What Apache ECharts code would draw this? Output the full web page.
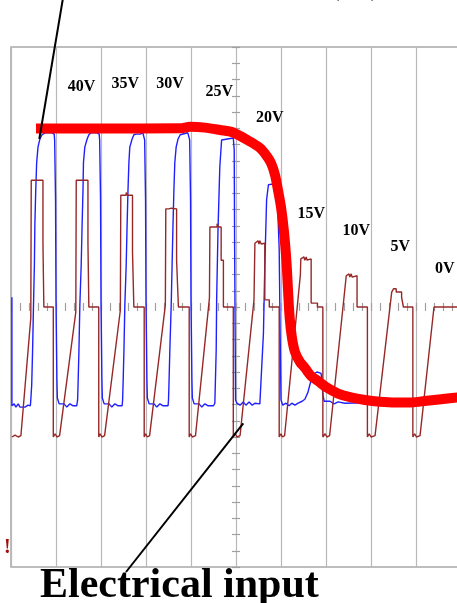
<!DOCTYPE html>
<html><head><meta charset="utf-8">
<script src="https://cdn.jsdelivr.net/npm/echarts@6/dist/echarts.min.js"></script>
<style>html,body{margin:0;padding:0;background:#fff}#c{width:457px;height:603px}</style>
</head><body><div id="c"></div>
<script>
// x in screen divisions (0..10), y in vertical divisions (-4..4)
const brownTrace = [
[0.02,-2.00],[0.09,-1.97],[0.16,-2.00],[0.22,-1.98],[0.44,-0.17],[0.45,-0.17],[0.45,1.95],
[0.71,1.95],[0.71,0.98],[0.73,0.98],[0.73,0],[0.94,0],[0.94,-2.0],[0.98,-1.95],[1.02,-2.0],[1.08,-1.98],
[1.44,-0.08],[1.45,-0.08],[1.45,1.95],
[1.71,1.95],[1.71,0.98],[1.73,0.98],[1.73,0],[1.95,0],[1.95,-2.0],[1.98,-1.95],[2.02,-2.0],[2.08,-1.98],
[2.43,-0.05],[2.44,-0.05],[2.44,1.72],[2.56,1.72],[2.56,1.76],[2.59,1.76],[2.59,1.72],[2.70,1.72],[2.70,0.85],[2.73,0.85],[2.73,0],[2.96,0],[2.96,-2.0],[2.99,-1.95],[3.03,-2.0],[3.08,-1.98],
[3.43,0.03],[3.44,0.03],[3.44,1.51],[3.51,1.51],[3.53,1.48],[3.56,1.52],[3.58,1.49],[3.60,1.52],[3.68,1.51],[3.68,0.72],[3.72,0.72],[3.72,0],[3.96,0],[3.96,-2.0],[3.99,-1.95],[4.03,-2.0],[4.10,-1.98],
[4.41,0.14],[4.42,0.14],[4.42,1.23],[4.58,1.23],[4.58,1.28],[4.62,1.28],[4.62,1.23],[4.67,1.23],[4.67,0.72],[4.72,0.72],[4.72,0],[4.94,0],[4.94,-2.0],[4.98,-1.95],[5.02,-2.0],[5.09,-1.98],
[5.40,0.11],[5.42,0.11],[5.42,0.98],[5.49,1.02],[5.51,0.97],[5.53,1.02],[5.56,0.97],[5.58,1.0],[5.64,0.98],[5.64,0.11],[5.74,0.11],[5.74,0],[5.96,0],[5.96,-2.0],[6.00,-1.95],[6.03,-2.0],[6.08,-1.98],
[6.43,0.49],[6.44,0.74],[6.51,0.77],[6.53,0.72],[6.56,0.77],[6.58,0.72],[6.67,0.74],[6.67,0.06],[6.81,0.06],[6.81,0],[6.93,0],[6.93,-2.0],[6.98,-1.95],[7.02,-2.0],[7.08,-1.98],
[7.45,0.48],[7.51,0.51],[7.53,0.46],[7.56,0.51],[7.58,0.46],[7.69,0.48],[7.69,0],[7.92,0],[7.92,-2.0],[7.96,-1.95],[8.00,-2.0],[8.09,-1.98],
[8.46,0.23],[8.50,0.28],[8.56,0.28],[8.56,0.23],[8.68,0.23],[8.68,0.15],[8.72,0.15],[8.72,0],[8.93,0],[8.93,-2.0],[8.97,-1.95],[9.01,-2.0],[9.09,-1.98],
[9.40,0],[10,0]
];
const blueTrace = [
[0.02,0.15],[0.02,-1.52],[0.07,-1.49],[0.11,-1.54],[0.16,-1.49],[0.20,-1.54],[0.24,-1.51],[0.31,-1.54],[0.38,-1.51],[0.43,-1.52],
[0.44,-1.43],[0.46,-1.2],[0.48,-0.66],[0.50,0.03],[0.52,0.65],[0.53,1.26],[0.55,1.8],[0.57,2.22],[0.60,2.46],[0.64,2.58],[0.69,2.65],[0.76,2.68],[0.91,2.68],[0.96,2.66],[0.97,2.57],[0.99,1.65],[1.00,0.11],[1.02,-1.12],[1.03,-1.4],[1.07,-1.49],
[1.11,-1.52],[1.18,-1.49],[1.24,-1.54],[1.31,-1.49],[1.38,-1.52],[1.46,-1.52],
[1.48,-1.43],[1.49,-1.2],[1.51,-0.66],[1.53,0.03],[1.56,0.65],[1.58,1.26],[1.60,1.8],[1.61,2.22],[1.64,2.46],[1.69,2.58],[1.73,2.65],[1.78,2.68],[1.91,2.68],[1.94,2.71],[1.96,2.66],[1.97,2.57],[1.99,1.65],[2.00,0.11],[2.02,-1.12],[2.03,-1.4],[2.07,-1.49],
[2.11,-1.52],[2.18,-1.49],[2.24,-1.54],[2.31,-1.49],[2.38,-1.52],[2.47,-1.52],
[2.48,-1.43],[2.49,-1.2],[2.51,-0.66],[2.53,0.03],[2.56,0.65],[2.58,1.26],[2.60,1.8],[2.62,2.22],[2.64,2.46],[2.69,2.58],[2.73,2.65],[2.78,2.66],[2.82,2.69],[2.87,2.66],[2.93,2.68],[2.96,2.66],[2.97,2.57],[2.99,1.65],[3.00,0.11],[3.02,-1.12],[3.03,-1.4],[3.07,-1.49],
[3.11,-1.52],[3.18,-1.49],[3.24,-1.54],[3.31,-1.49],[3.38,-1.52],[3.49,-1.52],
[3.50,-1.43],[3.51,-1.2],[3.53,-0.66],[3.56,0.03],[3.58,0.65],[3.60,1.26],[3.62,1.8],[3.64,2.22],[3.67,2.46],[3.71,2.58],[3.76,2.65],[3.80,2.68],[3.93,2.68],[3.96,2.66],[3.97,2.57],[3.99,1.65],[4.00,0.11],[4.02,-1.12],[4.03,-1.4],[4.07,-1.49],
[4.11,-1.52],[4.18,-1.49],[4.24,-1.54],[4.31,-1.49],[4.38,-1.52],[4.50,-1.52],
[4.53,-1.48],[4.56,-0.66],[4.57,0.11],[4.60,1.18],[4.64,2.15],[4.68,2.57],[4.71,2.6],[4.94,2.6],[4.96,2.42],[4.97,0.88],[4.99,-1.43],[5.02,-1.48],
[5.09,-1.51],[5.16,-1.46],[5.22,-1.51],[5.29,-1.46],[5.36,-1.51],[5.42,-1.48],[5.53,-1.49],
[5.57,-1.48],[5.61,-0.4],[5.64,0.62],[5.68,1.65],[5.72,1.88],[5.76,1.91],[5.80,1.89],[5.84,1.92],[5.89,1.88],[5.92,1.65],[5.96,0.88],[5.98,-0.35],[6.00,-1.43],[6.04,-1.51],
[6.11,-1.48],[6.18,-1.52],[6.24,-1.48],[6.31,-1.51],[6.38,-1.48],
[6.47,-1.45],[6.53,-1.42],[6.60,-1.31],[6.64,-1.2],[6.69,-1.08],[6.73,-1.03],[6.80,-1.0],[6.89,-1.02],[6.91,-1.12],[6.93,-1.35],[6.96,-1.45],[7.00,-1.48],
[7.09,-1.45],[7.18,-1.49],[7.27,-1.46],[7.42,-1.48],[8.64,-1.46],[9.91,-1.45],[10,-1.45]
];
const redX = [0.556,1.978,3.756,3.978,4.311,4.644,4.933,5.311,5.533,5.667,5.778,5.867,5.933,6.0,6.067,6.122,6.156,6.193,6.244,6.311,6.422,6.533,6.667,6.822,7.0,7.267,7.556,7.867,8.2,8.533,8.889,9.244,9.556,10];
const redY = [2.746,2.746,2.749,2.772,2.760,2.723,2.685,2.546,2.446,2.338,2.215,2.031,1.8,1.538,1.154,0.692,0.262,-0.169,-0.477,-0.692,-0.846,-0.938,-1.062,-1.138,-1.231,-1.331,-1.392,-1.431,-1.457,-1.469,-1.469,-1.441,-1.42,-1.385];
const voltText = ['40V','35V','30V','25V','20V','15V','10V','5V','0V'];
const voltX = [1.567,2.538,3.533,4.629,5.749,6.673,7.673,8.649,9.638];
const voltY = [3.392,3.434,3.438,3.305,2.911,1.434,1.166,0.920,0.592];
const pointerOptical = [[1.167,4.80],[0.629,2.585]];
const pointerElectrical = [[5.162,-1.789],[2.556,-4.077]];

const chart = echarts.init(document.getElementById('c'), null, {renderer:'canvas'});
const serif = '"Liberation Serif","Times New Roman",serif';
const option = {
  animation: false,
  backgroundColor: '#fff',
  grid: {left: 11, top: 47, width: 450, height: 520, outerBoundsMode: 'none', containLabel: false,
         show: true, borderColor: '#a8a8a8', borderWidth: 1.5, backgroundColor: 'transparent'},
  xAxis: [
    {type:'value', min:0, max:10, interval:1, axisLine:{show:false, onZero:false}, axisTick:{show:false}, axisLabel:{show:false},
     splitLine:{show:true, lineStyle:{color:'#b8b8b8', width:1.2}}},
    {type:'value', min:0, max:10, interval:0.2, position:'bottom', offset:-264, axisLine:{show:false, onZero:false},
     axisTick:{show:true, length:8, lineStyle:{color:'#a0a0a0', width:1.2}}, axisLabel:{show:false}, splitLine:{show:false}}
  ],
  yAxis: [
    {type:'value', min:-4, max:4, interval:1, axisLine:{show:false, onZero:false}, axisTick:{show:false}, axisLabel:{show:false}, splitLine:{show:false}},
    {type:'value', min:-4, max:4, interval:0.25, position:'left', offset:-229, axisLine:{show:false, onZero:false},
     axisTick:{show:true, length:8, lineStyle:{color:'#a0a0a0', width:1.2}}, axisLabel:{show:false}, splitLine:{show:false}}
  ],
  series: [
    {type:'line', data: blueTrace, showSymbol:false, symbol:'none', lineStyle:{color:'#2020ff', width:1.4}, z:2},
    {type:'line', data: brownTrace, showSymbol:false, symbol:'none', lineStyle:{color:'#962828', width:1.4}, z:3},
    {type:'line', data: redX.map((x,i)=>[x, redY[i]]), showSymbol:false, symbol:'none', smooth:0.3,
     lineStyle:{color:'#ff0000', width:10, cap:'butt', join:'round'}, z:4},
    {type:'line', data: pointerOptical, showSymbol:false, symbol:'none', clip:false, lineStyle:{color:'#000', width:2}, z:5},
    {type:'line', data: pointerElectrical, showSymbol:false, symbol:'none', clip:false, lineStyle:{color:'#000', width:2}, z:5},
    {type:'scatter', data: voltX.map((x,i)=>[x, voltY[i], voltText[i]]), symbolSize:0, z:6, itemStyle:{color:'transparent', opacity:1},
     label:{show:true, position:'inside', formatter: p => p.value[2], color:'#000', opacity:1, textBorderWidth:0, textBorderColor:'transparent',
            fontFamily: serif, fontWeight:'bold', fontSize:16}}
  ],
  graphic: [
    {type:'text', left:40, top:565, z:10, style:{text:'Electrical input', font:'bold 42px ' + serif, fill:'#000'}},
    {type:'text', left:326, top:-40, z:10, style:{text:'(V)', font:'bold 42px ' + serif, fill:'#000'}},
    {type:'text', left:4, top:538, z:10, style:{text:'!', font:'bold 20px ' + serif, fill:'#a01010'}}
  ]
};
chart.setOption(option);
</script></body></html>
